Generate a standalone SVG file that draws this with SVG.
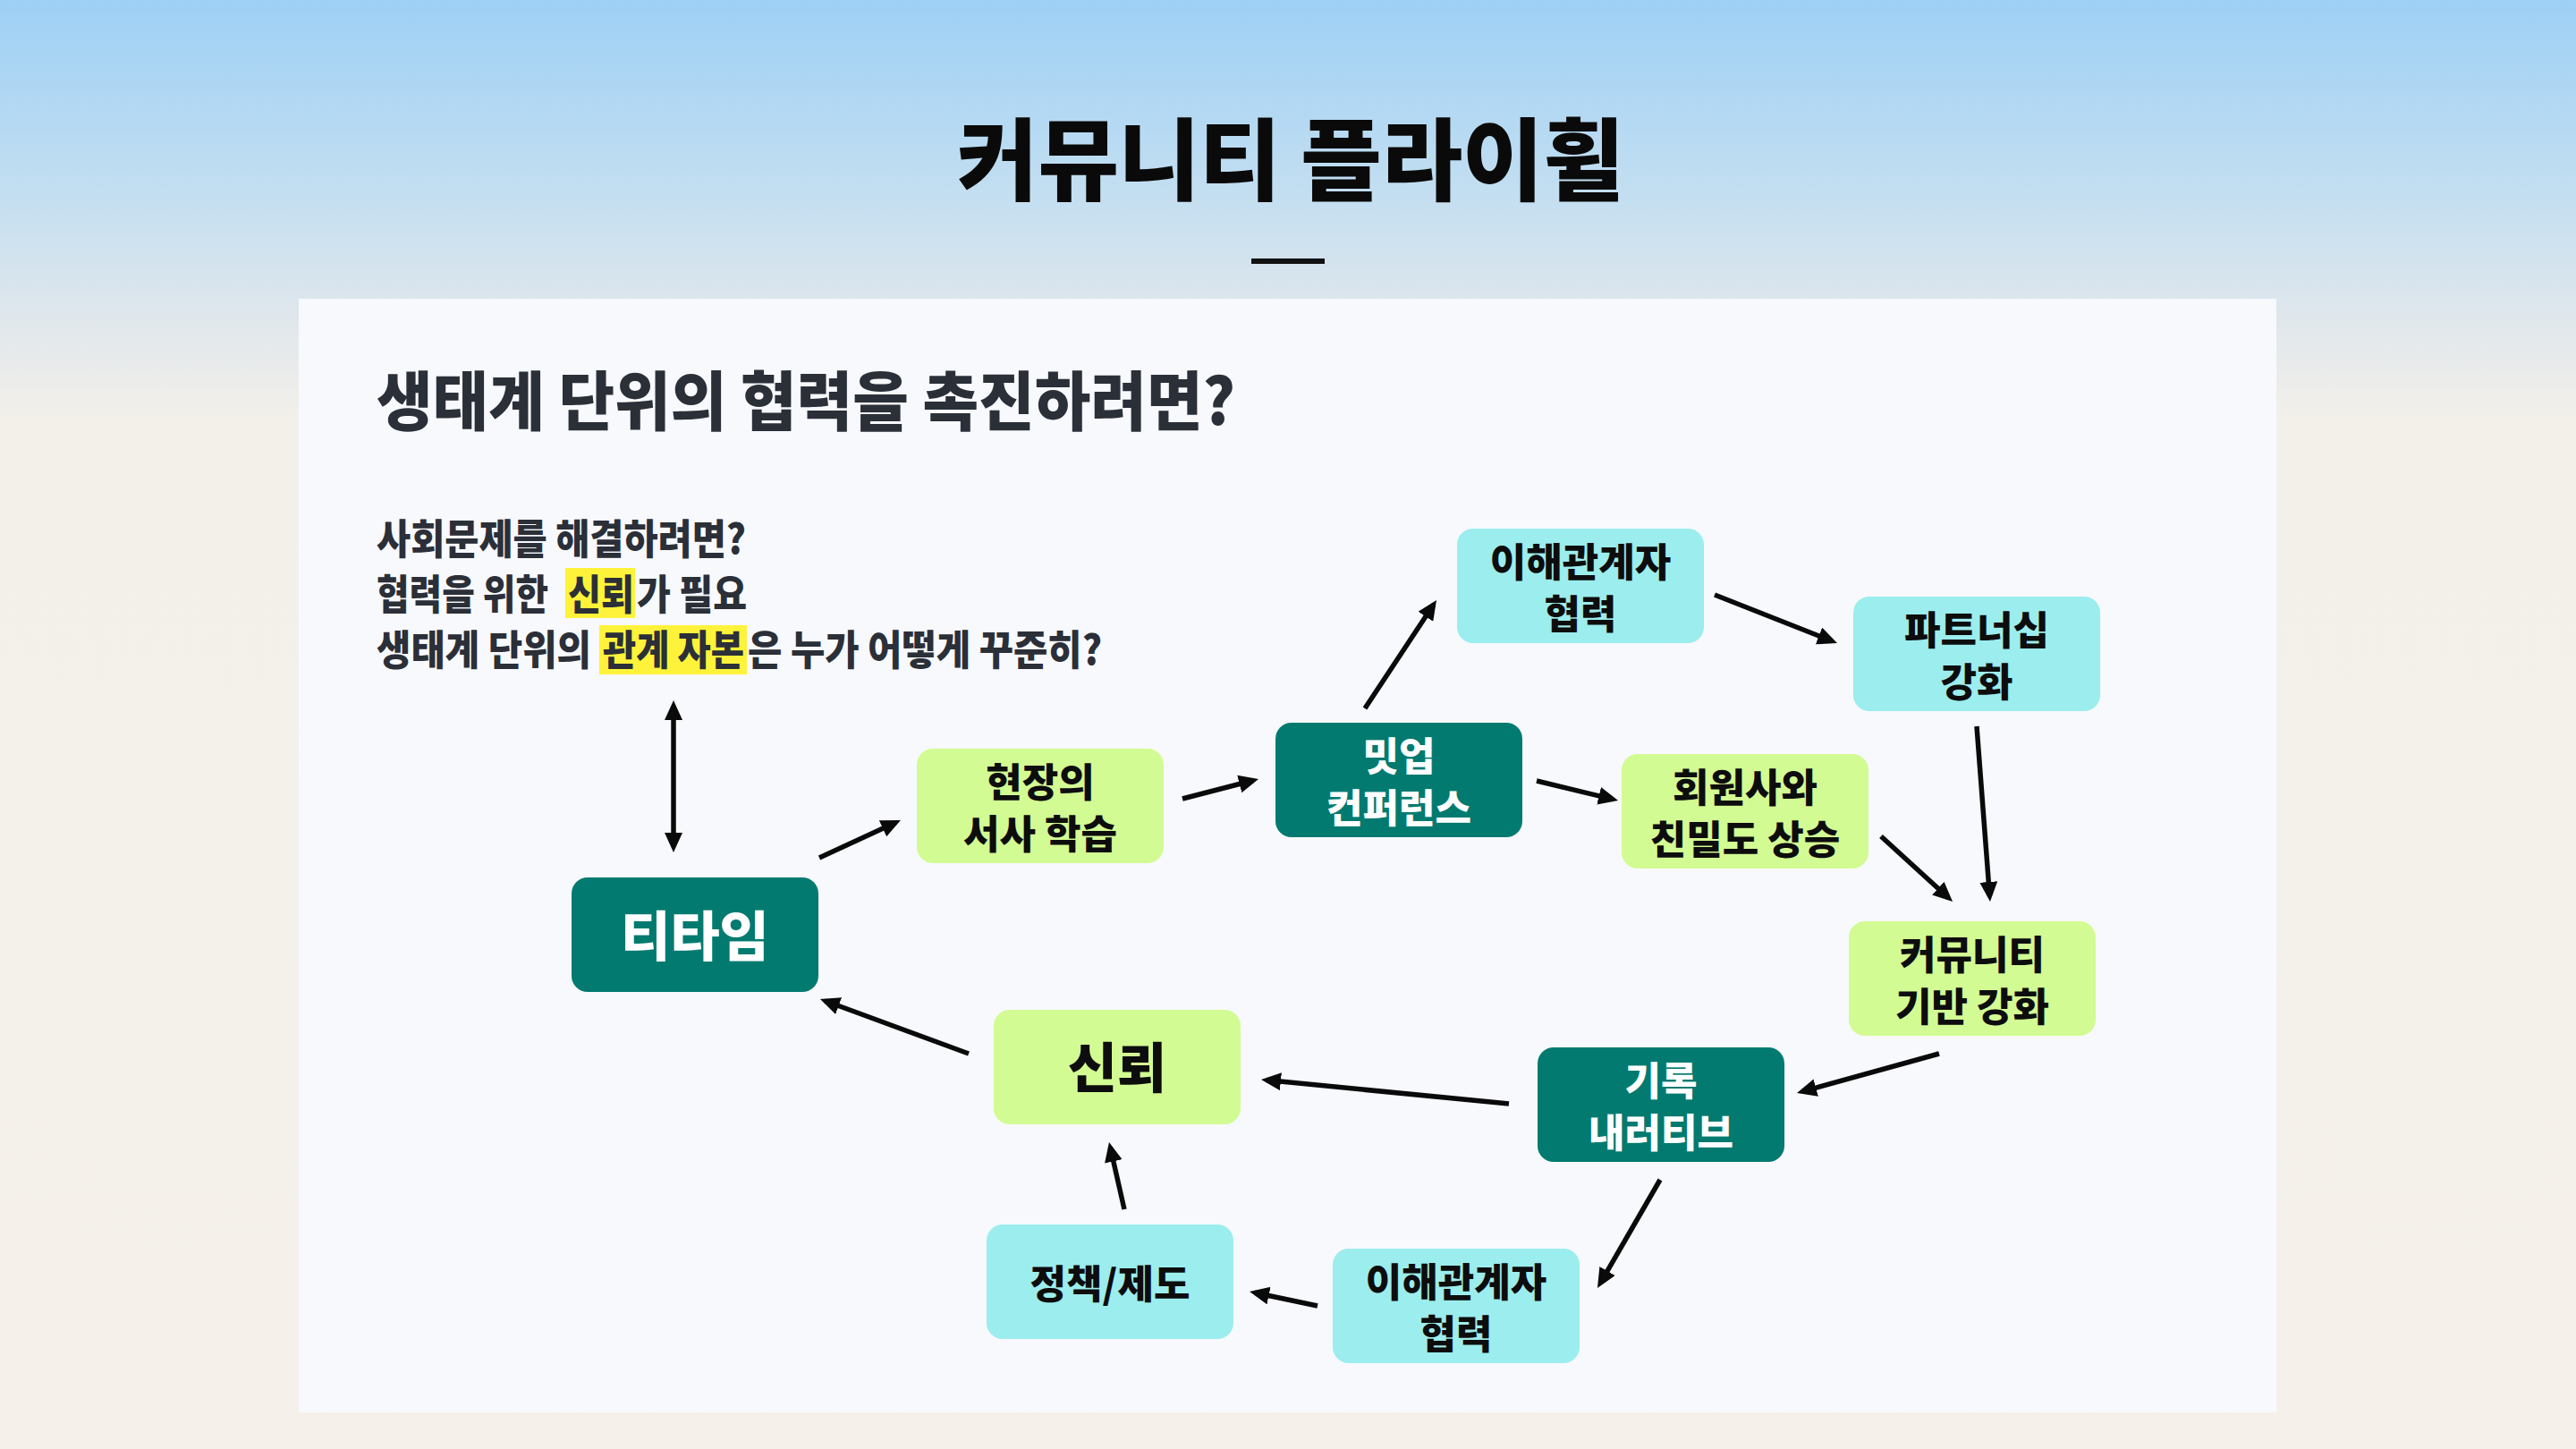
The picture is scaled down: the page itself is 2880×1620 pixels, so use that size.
<svg xmlns="http://www.w3.org/2000/svg" width="2880" height="1620" viewBox="0 0 2880 1620">
<defs>
<linearGradient id="bg" x1="0" y1="0" x2="0" y2="1620" gradientUnits="userSpaceOnUse">
<stop offset="0" stop-color="#9ED0F5"/>
<stop offset="0.13" stop-color="#C2DEF1"/>
<stop offset="0.22" stop-color="#E0E7EC"/>
<stop offset="0.29" stop-color="#F3F0EA"/>
<stop offset="1" stop-color="#F5F1EA"/>
</linearGradient>
<marker id="ah" markerUnits="userSpaceOnUse" markerWidth="24" markerHeight="22" refX="16" refY="10" orient="auto-start-reverse" viewBox="0 0 24 22">
<path d="M0,0 L22,10 L0,20 Z" fill="#0A0A0A"/>
</marker>
<style>
.t{font-family:"Noto Sans CJK KR","Noto Sans",sans-serif}
.title{font-size:100px;font-weight:900;fill:#0A0A0A}
.sub{font-size:72px;font-weight:800;fill:#2B2F38}
.body{font-size:46px;font-weight:800;fill:#2B2F38}
.hl{fill:#FEF33A}
.nd{fill:#027A70}
.ng{fill:#D3FB93}
.nc{fill:#9CEDED}
.lbl{font-size:44px;font-weight:900;text-anchor:middle;fill:#0D0D0D}
.big{font-size:60px}
.w{fill:#FFFFFF}
.conn line{stroke:#0A0A0A;stroke-width:5.5;marker-end:url(#ah)}
</style>
</defs>
<rect x="0" y="0" width="2880" height="1620" fill="url(#bg)"/>
<text class="t title" x="1070" y="216" textLength="746" lengthAdjust="spacingAndGlyphs">커뮤니티 플라이휠</text>
<rect x="1399" y="289" width="82" height="6" fill="#111111"/>
<rect x="334" y="334" width="2211" height="1245" fill="#F7F9FD"/>
<text class="t sub" x="421" y="475" textLength="960" lengthAdjust="spacingAndGlyphs">생태계 단위의 협력을 촉진하려면?</text>
<rect class="hl" x="632" y="635" width="78" height="56"/>
<rect class="hl" x="670" y="699" width="165" height="55"/>
<text class="t body" x="421" y="619" textLength="413" lengthAdjust="spacingAndGlyphs">사회문제를 해결하려면?</text>
<text class="t body" x="421" y="681" textLength="192" lengthAdjust="spacingAndGlyphs">협력을 위한</text>
<text class="t body" x="635" y="681" textLength="74" lengthAdjust="spacingAndGlyphs">신뢰</text>
<text class="t body" x="712" y="681" textLength="123" lengthAdjust="spacingAndGlyphs">가 필요</text>
<text class="t body" x="421" y="743" textLength="240" lengthAdjust="spacingAndGlyphs">생태계 단위의</text>
<text class="t body" x="674" y="743" textLength="158" lengthAdjust="spacingAndGlyphs">관계 자본</text>
<text class="t body" x="836" y="743" textLength="396" lengthAdjust="spacingAndGlyphs">은 누가 어떻게 꾸준히?</text>
<g class="conn">
<line x1="753" y1="789" x2="753" y2="947" marker-start="url(#ah)"/>
<line x1="916" y1="959" x2="1001.5" y2="919.5"/>
<line x1="1322" y1="893" x2="1401.2" y2="872.5"/>
<line x1="1526" y1="792" x2="1602.7" y2="676"/>
<line x1="1917" y1="665" x2="2048.4" y2="716.8"/>
<line x1="1718" y1="873" x2="1803.2" y2="893.6"/>
<line x1="2210" y1="812" x2="2224.5" y2="1002"/>
<line x1="2103" y1="935" x2="2178.6" y2="1004"/>
<line x1="2168" y1="1178" x2="2014.8" y2="1220.4"/>
<line x1="1687" y1="1234" x2="1416" y2="1207.6"/>
<line x1="1856" y1="1319" x2="1789" y2="1434.8"/>
<line x1="1473" y1="1460" x2="1402.9" y2="1445.2"/>
<line x1="1257" y1="1352" x2="1241.3" y2="1282.8"/>
<line x1="1083" y1="1178" x2="922.6" y2="1119"/>
</g>
<g id="n-teatime"><rect class="nd" x="639" y="981" width="276" height="128" rx="18"/><text class="t lbl big w" x="777" y="1069">티타임</text></g>
<g id="n-narrative-learning"><rect class="ng" x="1025" y="837" width="276" height="128" rx="18"/><text class="t lbl" x="1163" y="891">현장의</text><text class="t lbl" x="1163" y="949">서사 학습</text></g>
<g id="n-meetup"><rect class="nd" x="1426" y="808" width="276" height="128" rx="18"/><text class="t lbl w" x="1564" y="862">밋업</text><text class="t lbl w" x="1564" y="920">컨퍼런스</text></g>
<g id="n-stakeholder-top"><rect class="nc" x="1629" y="591" width="276" height="128" rx="18"/><text class="t lbl" x="1767" y="645">이해관계자</text><text class="t lbl" x="1767" y="703">협력</text></g>
<g id="n-partnership"><rect class="nc" x="2072" y="667" width="276" height="128" rx="18"/><text class="t lbl" x="2210" y="721">파트너십</text><text class="t lbl" x="2210" y="779">강화</text></g>
<g id="n-members"><rect class="ng" x="1813" y="843" width="276" height="128" rx="18"/><text class="t lbl" x="1951" y="897">회원사와</text><text class="t lbl" x="1951" y="955">친밀도 상승</text></g>
<g id="n-community"><rect class="ng" x="2067" y="1030" width="276" height="128" rx="18"/><text class="t lbl" x="2205" y="1084">커뮤니티</text><text class="t lbl" x="2205" y="1142">기반 강화</text></g>
<g id="n-record"><rect class="nd" x="1719" y="1171" width="276" height="128" rx="18"/><text class="t lbl w" x="1857" y="1225">기록</text><text class="t lbl w" x="1857" y="1283">내러티브</text></g>
<g id="n-trust"><rect class="ng" x="1111" y="1129" width="276" height="128" rx="18"/><text class="t lbl big" x="1249" y="1216">신뢰</text></g>
<g id="n-policy"><rect class="nc" x="1103" y="1369" width="276" height="128" rx="18"/><text class="t lbl" x="1241" y="1452">정책/제도</text></g>
<g id="n-stakeholder-bottom"><rect class="nc" x="1490" y="1396" width="276" height="128" rx="18"/><text class="t lbl" x="1628" y="1450">이해관계자</text><text class="t lbl" x="1628" y="1508">협력</text></g>
</svg>
